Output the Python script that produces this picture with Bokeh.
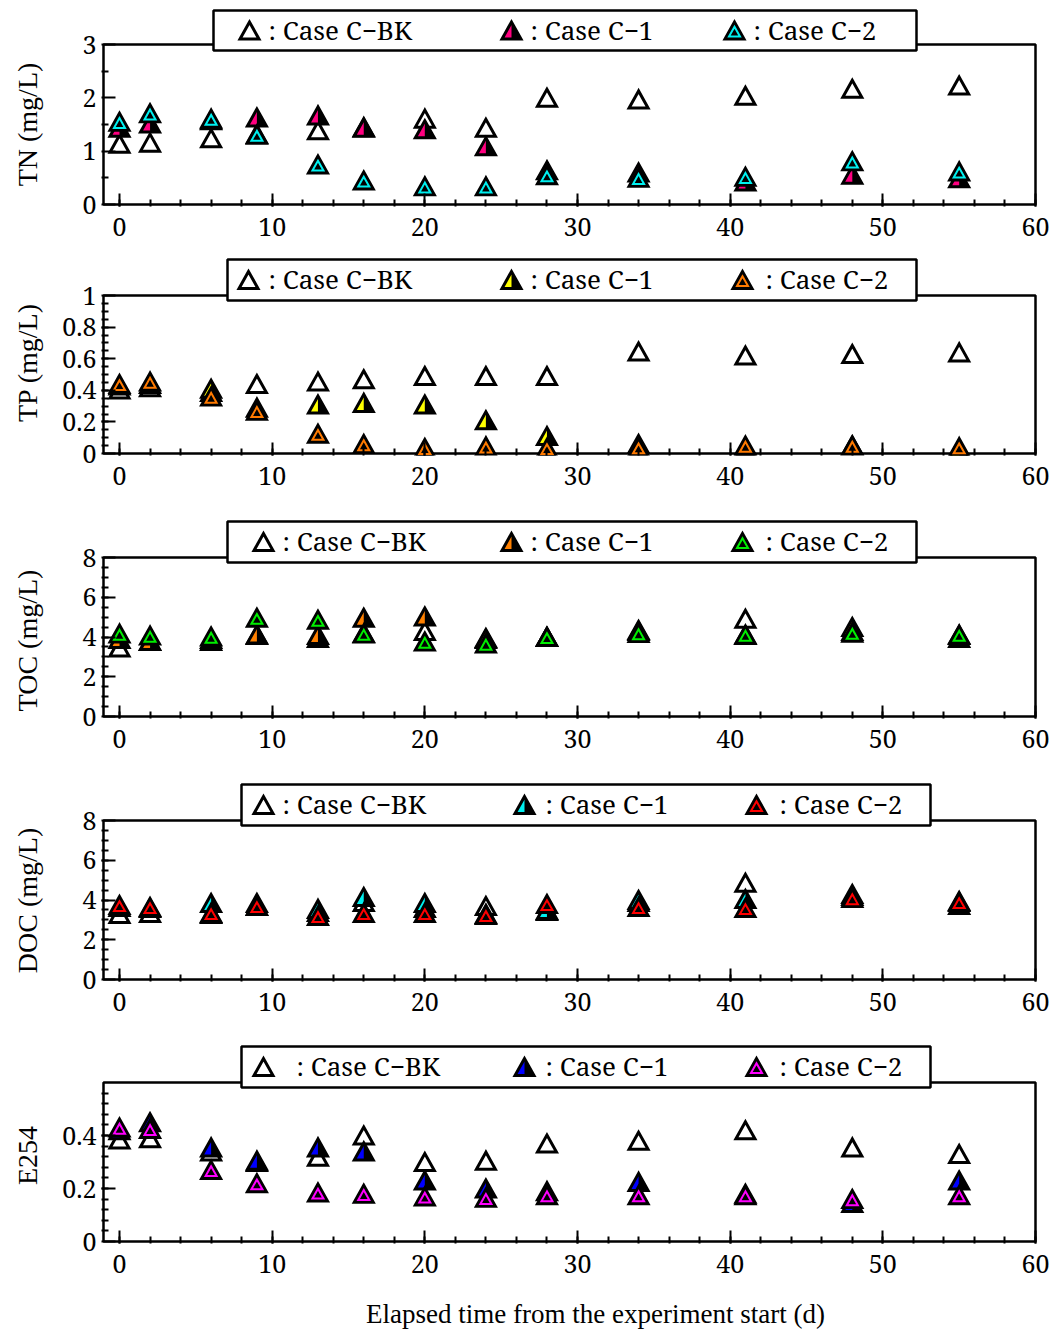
import numpy as np
from bokeh.plotting import figure
from bokeh.layouts import column, row
from bokeh.models import FixedTicker, BoxAnnotation
from bokeh.embed import file_html
from bokeh.resources import INLINE
from bokeh.core.properties import value

# ---------------------------------------------------------------- data
days = [0, 2, 6, 9, 13, 16, 20, 24, 28, 34, 41, 48, 55]

tn_bk = [1.14, 1.16, 1.24, 1.32, 1.39, 1.45, 1.61, 1.44, 2.00, 1.97, 2.04, 2.17, 2.23]
tn_c1 = [1.44, 1.52, 1.58, 1.63, 1.67, 1.44, 1.41, 1.09, 0.64, 0.60, 0.43, 0.56, 0.49]
tn_c2 = [1.55, 1.71, 1.61, 1.31, 0.75, 0.45, 0.34, 0.34, 0.55, 0.50, 0.52, 0.81, 0.62]

tp_bk = [0.405, 0.42, 0.39, 0.44, 0.455, 0.47, 0.49, 0.49, 0.49, 0.645, 0.62, 0.63, 0.64]
tp_c1 = [0.43, 0.44, 0.41, 0.29, 0.31, 0.32, 0.31, 0.21, 0.11, 0.06, 0.04, 0.05, 0.03]
tp_c2 = [0.44, 0.455, 0.36, 0.27, 0.125, 0.06, 0.035, 0.045, 0.035, 0.04, 0.05, 0.05, 0.04]

toc_bk = [3.47, 3.80, 3.80, 4.10, 3.95, 4.20, 4.30, 3.90, 4.00, 4.30, 4.92, 4.30, 3.95]
toc_c1 = [3.90, 3.80, 3.90, 4.12, 4.10, 4.97, 5.03, 3.95, 4.00, 4.35, 4.10, 4.50, 4.10]
toc_c2 = [4.17, 4.07, 4.02, 4.97, 4.87, 4.17, 3.77, 3.67, 4.00, 4.20, 4.12, 4.22, 4.12]

doc_bk = [3.30, 3.35, 3.30, 3.70, 3.40, 3.90, 3.60, 3.70, 3.45, 3.90, 4.87, 4.20, 3.75]
doc_c1 = [3.65, 3.60, 3.85, 3.85, 3.55, 4.15, 3.85, 3.30, 3.50, 4.00, 4.05, 4.30, 3.95]
doc_c2 = [3.75, 3.65, 3.35, 3.70, 3.20, 3.35, 3.35, 3.25, 3.80, 3.65, 3.60, 4.10, 3.90]

e254_bk = [0.385, 0.39, 0.34, 0.30, 0.32, 0.40, 0.30, 0.305, 0.37, 0.38, 0.42, 0.355, 0.33]
e254_c1 = [0.42, 0.45, 0.355, 0.305, 0.355, 0.34, 0.23, 0.20, 0.19, 0.225, 0.18, 0.145, 0.23]
e254_c2 = [0.43, 0.425, 0.27, 0.22, 0.185, 0.18, 0.17, 0.165, 0.175, 0.175, 0.175, 0.16, 0.175]

x_ticks = [0, 10, 20, 30, 40, 50, 60]
x_minor = list(range(0, 61, 2))

tn_ticks, tn_labels = [0, 1, 2, 3], ["0", "1", "2", "3"]
tp_ticks, tp_labels = [0, 0.2, 0.4, 0.6, 0.8, 1], ["0", "0.2", "0.4", "0.6", "0.8", "1"]
oc_ticks, oc_labels = [0, 2, 4, 6, 8], ["0", "2", "4", "6", "8"]
e254_ticks, e254_labels = [0, 0.2, 0.4], ["0", "0.2", "0.4"]

series_names = [": Case C\u2212BK", ": Case C\u22121", ": Case C\u22122"]
x_title = "Elapsed time from the experiment start (d)"

TITLE_FONT = "Liberation Serif"   # stand-alone title strips
PANEL_FONT = "Noto Serif"         # tick labels and legend texts inside the panels

# ---------------------------------------------------------------- layout (pixels)
W_TOTAL, H_TOTAL = 1056, 1331
TITLE_W = 50                 # left column holding the y titles
FRAME_LEFT = 101             # page x of each panel's frame
FRAME_W = 936
PX_PER_UNIT = (1035 - 119) / 60.0
X0 = -(119 - FRAME_LEFT) / PX_PER_UNIT
X1 = X0 + FRAME_W / PX_PER_UNIT
DX = 1.0 / PX_PER_UNIT
TRI_W, TRI_H = 19.0, 17.0
XTITLE_TOP = 1290
XTITLE_CENTER = 544          # horizontal centre of the x title inside its strip

panels = [
    dict(title="TN (mg/L)", bk=tn_bk, c1=tn_c1, c2=tn_c2, col1="#FF0080", col2="#00F0F0",
         ylim=(0, 3), ticks=tn_ticks, labels=tn_labels, minor=[0.5, 1.5, 2.5],
         top=0, ftop=8, atop=44, abot=204, nxt=256, title_y=124,
         box=(213, 916, 10, 50), mk=(249, 511, 734), tx=(268, 530, 753)),
    dict(title="TP (mg/L)", bk=tp_bk, c1=tp_c1, c2=tp_c2, col1="#FFFF00", col2="#FF7A00",
         ylim=(0, 1), ticks=tp_ticks, labels=tp_labels,
         minor=[round(0.05 * i, 2) for i in range(1, 20)],
         top=256, ftop=256, atop=295, abot=453, nxt=519, title_y=362,
         box=(227, 916, 259, 300), mk=(248, 511, 742), tx=(268, 530, 765)),
    dict(title="TOC (mg/L)", bk=toc_bk, c1=toc_c1, c2=toc_c2, col1="#FF8000", col2="#00EE00",
         ylim=(0, 8), ticks=oc_ticks, labels=oc_labels,
         minor=[0.5 * i for i in range(1, 16)],
         top=519, ftop=519, atop=557, abot=716, nxt=782, title_y=640,
         box=(227, 916, 521, 562), mk=(263, 511, 742), tx=(282, 530, 765)),
    dict(title="DOC (mg/L)", bk=doc_bk, c1=doc_c1, c2=doc_c2, col1="#00F0F0", col2="#FF0000",
         ylim=(0, 8), ticks=oc_ticks, labels=oc_labels,
         minor=[0.5 * i for i in range(1, 16)],
         top=782, ftop=782, atop=820, abot=979, nxt=1044, title_y=900,
         box=(241, 930, 784, 825), mk=(263, 524, 756), tx=(282, 545, 779)),
    dict(title="E254", bk=e254_bk, c1=e254_c1, c2=e254_c2, col1="#0000FF", col2="#FF00FF",
         ylim=(0, 0.6), ticks=e254_ticks, labels=e254_labels,
         minor=[round(0.04 * i, 2) for i in range(1, 15)],
         top=1044, ftop=1044, atop=1082, abot=1241, nxt=XTITLE_TOP, title_y=1155,
         box=(241, 930, 1046, 1087), mk=(263, 524, 756), tx=(296, 545, 779)),
]


def tri(xc, yc, dy, scale=1.0, half=False):
    """Triangle (or its left half) around a point, sized in screen pixels."""
    cy0 = -TRI_H / 6.0
    pts = [(0.0, TRI_H / 2), (-TRI_W / 2, -TRI_H / 2)]
    pts.append((0.0, -TRI_H / 2) if half else (TRI_W / 2, -TRI_H / 2))
    xs = [xc + px * scale * DX for px, _ in pts]
    ys = [yc + ((py - cy0) * scale + cy0) * dy for _, py in pts]
    return xs, ys


def draw_markers(p, xv, yv, dy, kind, color=None):
    shapes = [tri(x, y, dy) for x, y in zip(xv, yv)]
    xs = [s[0] for s in shapes]
    ys = [s[1] for s in shapes]
    if kind == "bk":
        p.patches(xs, ys, fill_color="white", line_color="black",
                  line_width=3, line_join="miter")
    elif kind == "c1":
        p.patches(xs, ys, fill_color="black", line_color=None)
        halves = [tri(x, y, dy, scale=0.9, half=True) for x, y in zip(xv, yv)]
        p.patches([h[0] for h in halves], [h[1] for h in halves],
                  fill_color=color, line_color=None)
        p.patches(xs, ys, fill_color=None, line_color="black",
                  line_width=3, line_join="miter")
    else:
        p.patches(xs, ys, fill_color="black", line_color="black",
                  line_width=3, line_join="miter")
        inner = [tri(x, y, dy, scale=0.58) for x, y in zip(xv, yv)]
        p.patches([h[0] for h in inner], [h[1] for h in inner],
                  fill_color="black", line_color=color, line_width=2,
                  line_join="miter")


def bare_figure(w, h, xr, yr):
    f = figure(frame_width=w, frame_height=h, x_range=xr, y_range=yr,
               x_axis_location=None, y_axis_location=None, min_border=0,
               toolbar_location=None, output_backend="svg", title=None)
    f.outline_line_color = None
    f.xgrid.visible = False
    f.ygrid.visible = False
    return f


# y titles live in a narrow column at the left of the page
ytitles = bare_figure(TITLE_W, H_TOTAL, (0, TITLE_W), (0, H_TOTAL))
ytitles.text(x=[27] * len(panels), y=[H_TOTAL - sp["title_y"] for sp in panels],
             text=[sp["title"] for sp in panels], angle=np.pi / 2,
             text_align="center", text_baseline="middle",
             text_font=value(TITLE_FONT), text_font_size="28px", text_color="black")

figs = []
for i, sp in enumerate(panels):
    ymin, ymax = sp["ylim"]
    dy = (ymax - ymin) / (sp["abot"] - sp["atop"])
    ytop = ymax + (sp["atop"] - sp["ftop"]) * dy
    ybot = ymin - 2 * dy

    def gx(px):
        return X0 + (px - FRAME_LEFT) * DX

    def gy(py, sp=sp, dy=dy, ymax=ymax):
        return ymax - (py - sp["atop"]) * dy

    p = figure(frame_width=FRAME_W, frame_height=sp["abot"] + 2 - sp["ftop"],
               x_range=(X0, X1), y_range=(ybot, ytop),
               min_border_left=FRAME_LEFT - TITLE_W,
               min_border_right=W_TOTAL - FRAME_LEFT - FRAME_W,
               min_border_top=sp["ftop"] - sp["top"],
               min_border_bottom=sp["nxt"] - sp["abot"] - 2,
               toolbar_location=None, output_backend="svg", title=None)
    p.outline_line_color = None
    p.xgrid.visible = False
    p.ygrid.visible = False

    # plot box
    p.add_layout(BoxAnnotation(left=gx(103), right=60, bottom=ymin, top=ymax,
                               fill_color=None, fill_alpha=0, line_color="black",
                               line_alpha=1, line_width=2.5, level="underlay"))

    for ax in (p.xaxis[0], p.yaxis[0]):
        ax.axis_line_color = None
        ax.major_tick_out = 0
        ax.minor_tick_out = 0
        ax.major_tick_line_width = 2
        ax.minor_tick_line_width = 2
        ax.major_label_text_font = PANEL_FONT
        ax.major_label_text_font_size = "25px"
        ax.major_label_text_color = "black"

    p.xaxis.ticker = FixedTicker(ticks=x_ticks, minor_ticks=x_minor)
    p.xaxis.major_tick_in = 13
    p.xaxis.minor_tick_in = 7
    p.xaxis.major_label_standoff = 11

    p.yaxis.ticker = FixedTicker(ticks=sp["ticks"], minor_ticks=sp["minor"])
    p.yaxis.major_label_overrides = {t: s for t, s in zip(sp["ticks"], sp["labels"])}
    p.yaxis.major_tick_in = 14
    p.yaxis.minor_tick_in = 7
    p.yaxis.major_label_standoff = 5

    # data markers
    draw_markers(p, days, sp["bk"], dy, "bk")
    draw_markers(p, days, sp["c1"], dy, "c1", sp["col1"])
    draw_markers(p, days, sp["c2"], dy, "c2", sp["col2"])

    # legend box
    bl, br, bt, bb = sp["box"]
    p.quad(left=[gx(bl)], right=[gx(br)], top=[gy(bt)], bottom=[gy(bb)],
           fill_color="white", line_color="black", line_width=2.5)
    ly = gy((bt + bb) / 2)
    draw_markers(p, [gx(sp["mk"][0])], [ly], dy, "bk")
    draw_markers(p, [gx(sp["mk"][1])], [ly], dy, "c1", sp["col1"])
    draw_markers(p, [gx(sp["mk"][2])], [ly], dy, "c2", sp["col2"])
    p.text(x=[gx(t) for t in sp["tx"]], y=[ly + 1.0 * dy] * 3, text=series_names,
           text_font=value(PANEL_FONT), text_font_size="26px",
           text_baseline="middle", text_align="left", text_color="black")
    figs.append(p)

# x title below the last panel
xt_w = W_TOTAL - TITLE_W
xt_h = H_TOTAL - XTITLE_TOP
xtitle = bare_figure(xt_w, xt_h, (0, xt_w), (0, xt_h))
xtitle.text(x=[XTITLE_CENTER - TITLE_W], y=[H_TOTAL - 1313], text=[x_title],
            text_align="center", text_baseline="middle",
            text_font=value(TITLE_FONT), text_font_size="27px", text_color="black")

layout = row(ytitles, column(*figs, xtitle, spacing=0), spacing=0)
open("out.html", "w").write(file_html(layout, INLINE))
